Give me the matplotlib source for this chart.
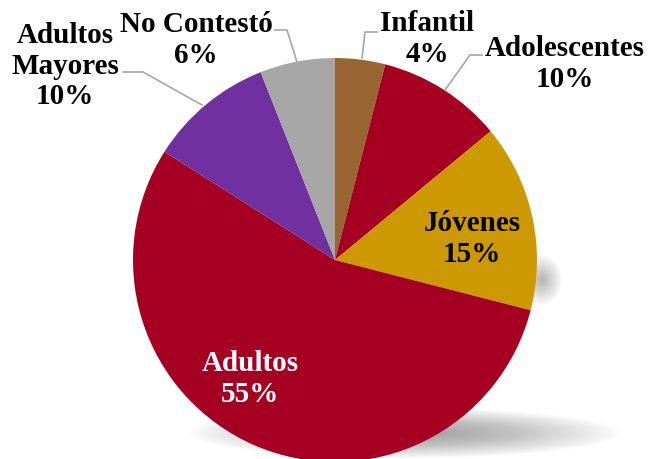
import matplotlib.pyplot as plt
from matplotlib.patches import Ellipse

# Data
labels = ['Infantil', 'Adolescentes', 'Jóvenes', 'Adultos', 'Adultos\nMayores', 'No Contestó']
values = [4, 10, 15, 55, 10, 6]
colors = ['#996633', '#A50021', '#CC9900', '#A50021', '#7030A0', '#A6A6A6']

H = 459
fig = plt.figure(figsize=(6.49, 4.59), dpi=100)
ax = fig.add_axes([0, 0, 1, 1])

# soft shadow under the pie
def shadow(cx, cy, w, h, n=40, a=0.018):
    for i in range(n):
        s = 1 - i / n
        ax.add_patch(Ellipse((cx, H - cy), w * s, h * s, color='#606060',
                             alpha=a, lw=0, zorder=0))

shadow(405, 433, 430, 50)
shadow(542, 280, 40, 50, n=25, a=0.02)

cx, cy, r = 335, H - 260, 202
wedges, _ = ax.pie(values, colors=colors, startangle=90, counterclock=False,
                   center=(cx, cy), radius=r, frame=True,
                   wedgeprops=dict(linewidth=0))
ax.set_xlim(0, 649)
ax.set_ylim(0, H)
ax.set_aspect('equal')
ax.axis('off')

font = dict(family='Liberation Serif', fontweight='bold', fontsize=21,
            ha='center', va='center', linespacing=1.15)

# label positions (pixels from top-left)
pos = [(427, 39), (565, 64), (472, 239), (250, 379), (65, 66), (196, 40)]
txtcol = ['black', 'black', 'black', 'white', 'black', 'black']
for lab, v, (x, y), c in zip(labels, values, pos, txtcol):
    ax.text(x, H - y, f'{lab}\n{v}%', color=c, zorder=5, **font)

# leader lines
leaders = [
    [(362, 58), (365, 32), (377, 32)],
    [(445, 90), (470, 55), (482, 55)],
    [(297, 62), (287, 30), (275, 30)],
    [(202, 105), (143, 72), (123, 72)],
]
for pts in leaders:
    xs = [p[0] for p in pts]
    ys = [H - p[1] for p in pts]
    ax.plot(xs, ys, color='#A6A6A6', lw=1.2, zorder=4)

fig.savefig('out.png', dpi=100)
